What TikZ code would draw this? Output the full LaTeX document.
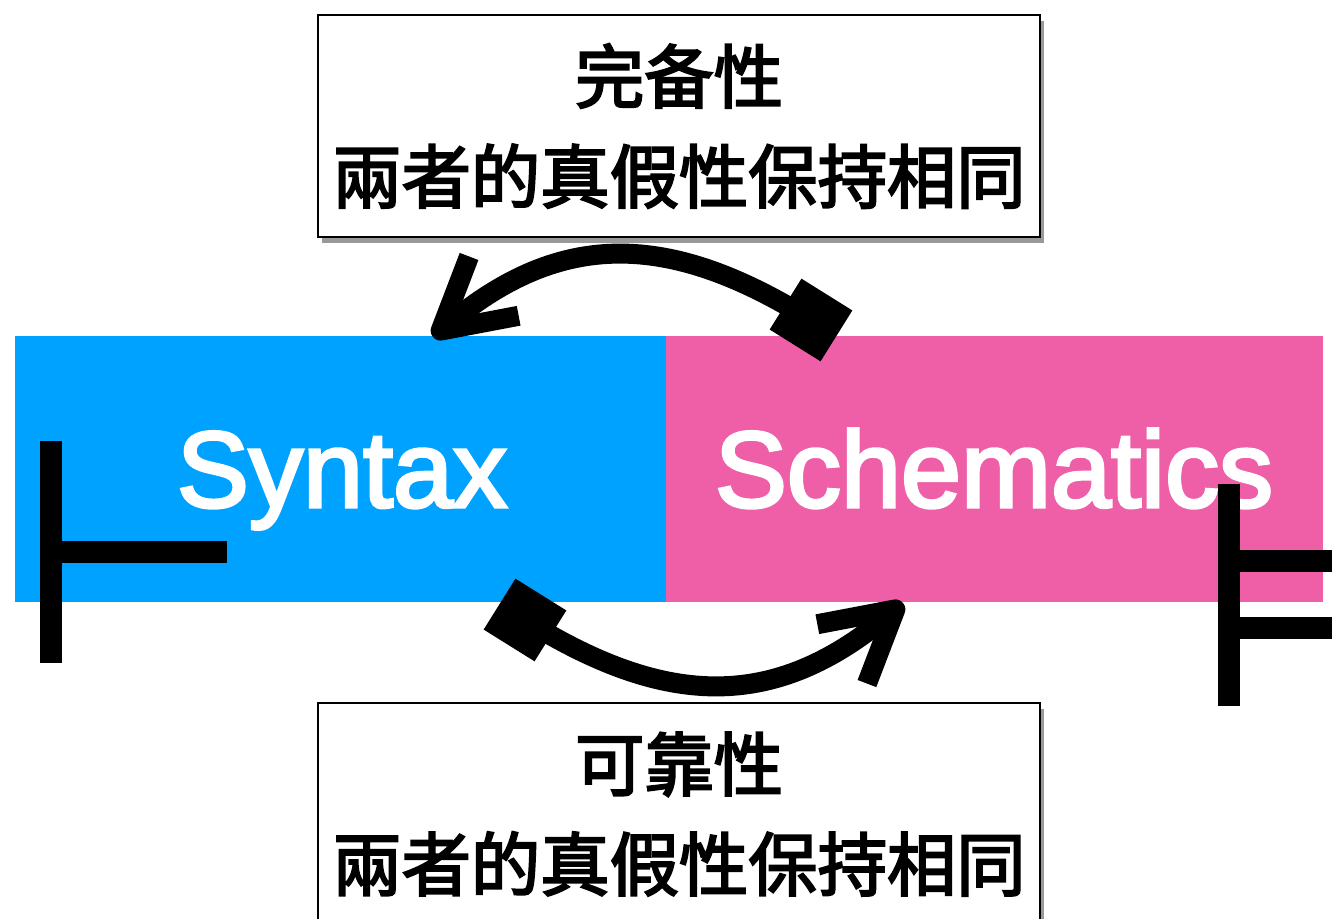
\documentclass[tikz,border=0pt]{standalone}
\usepackage{fontspec}
\setmainfont{Liberation Sans}
\newfontfamily\latinmed{Liberation Sans}[FakeBold=3]
\newfontfamily\cjk{Noto Sans CJK TC}[FakeBold=3]
\usetikzlibrary{arrows.meta,shadows}
\definecolor{synblue}{RGB}{0,162,255}
\definecolor{sempink}{RGB}{238,95,167}
\tikzset{
  bigword/.style={text=white, font=\latinmed\fontsize{81}{90}\selectfont, anchor=base, inner sep=0pt},
  infobox/.style={draw=black, line width=1.5pt, fill=white, minimum width=541.5pt, minimum height=166.5pt,
    align=center, inner sep=0pt, font=\cjk\fontsize{52}{75}\selectfont,
    drop shadow={shadow xshift=3pt, shadow yshift=-4.5pt, fill=black, opacity=0.4}},
  sqtail/.style={fill=black, minimum size=45pt, inner sep=0pt, rotate=-32},
  bendarrow/.style={line width=15pt, -{Straight Barb[length=52pt, width=58pt, line cap=butt, line join=round]}},
  bar/.style={line width=16.5pt, line cap=butt}
}
\begin{document}
\begin{tikzpicture}[x=0.75pt, y=-0.75pt]
\useasboundingbox (0,0) rectangle (1332,919);
% panels
\fill[synblue] (15,336) rectangle (666,602);
\fill[sempink] (666,336) rectangle (1323,602);
\node[bigword] (syn) at (342,507) {Syntax};
\node[bigword] (sem) at (994,507) {Schematics};
% turnstiles
\draw[bar] (51,441) -- (51,663);
\draw[bar] (62,552) -- (227,552);
\draw[bar] (1229,484) -- (1229,706);
\draw[bar] (1240,561) -- (1332,561);
\draw[bar] (1240,628) -- (1332,628);
% info boxes
\node[infobox] (top) at (679,126) {完备性\\兩者的真假性保持相同};
\node[infobox] (bot) at (679,814) {可靠性\\兩者的真假性保持相同};
% arrows
\node[sqtail] (sqA) at (811,320) {};
\coordinate (tipA) at (433,337);
\draw[bendarrow] (sqA.center) .. controls (669,231.5) and (561,230) .. (tipA);
\node[sqtail] (sqB) at (525,620) {};
\coordinate (tipB) at (903,603);
\draw[bendarrow] (sqB.center) .. controls (667,708.5) and (775,710) .. (tipB);
\end{tikzpicture}
\end{document}
